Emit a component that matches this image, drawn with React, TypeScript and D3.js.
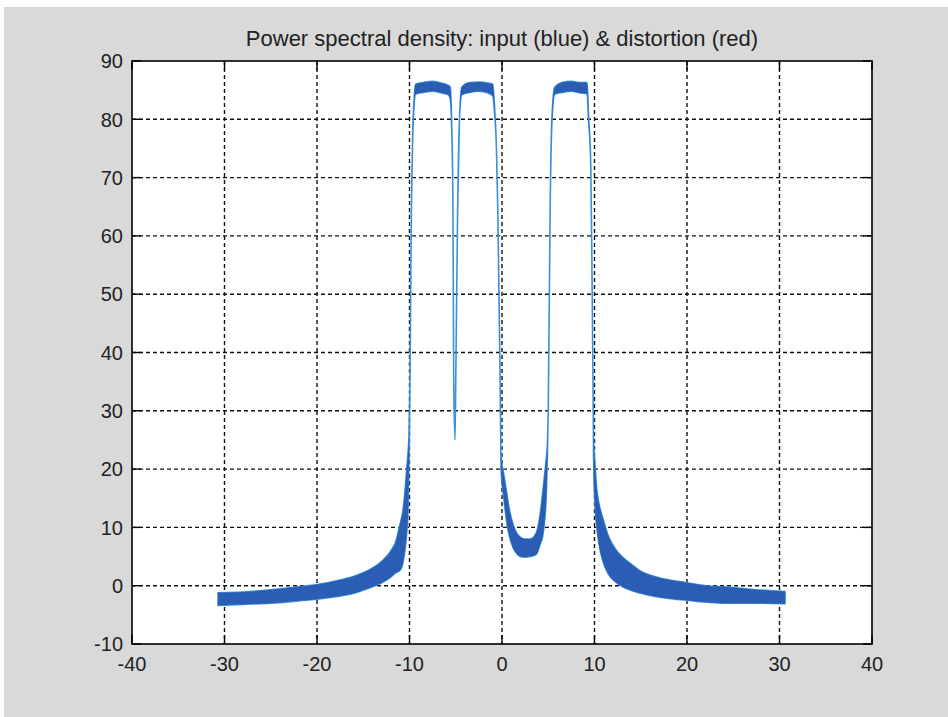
import React from 'react';
import * as d3 from 'd3';

// PSD envelope (lower / upper edge of the noisy trace)
const freq = [
  -30.7, -28, -25, -22, -20, -18, -16, -14.5, -13, -12,
  -11.5, -11, -10.7, -10.5, -10.3, -10.15, -10.05, -9.95, -9.8, -9.65,
  -9.5, -9.35, -8.5, -7.5, -6.5, -5.8, -5.6, -5.45, -5.3, -5.22,
  -5.08, -5.0, -4.8, -4.6, -4.35, -3.5, -2.5, -1.5, -1.0, -0.8,
  -0.6, -0.45, -0.2, -0.1, 0.2, 0.5, 0.8, 1.2, 1.6, 2.0,
  2.5, 3.0, 3.5, 3.8, 4.1, 4.4, 4.6, 4.8, 4.9, 5.0,
  5.2, 5.4, 5.7, 6.5, 7.5, 8.5, 9.2, 9.35, 9.6, 9.75,
  9.84, 9.9, 10.05, 10.25, 10.5, 10.95, 11.5, 12.4, 13.8, 15,
  16.7, 18, 20, 22, 24, 27.5, 30.6,
];
const psdLow = [
  -3.4, -3.2, -3.0, -2.6, -2.3, -1.9, -1.3, -0.5, 0.5, 1.5,
  2.2, 2.7, 4, 6, 9, 13, 22, 35, 64, 77,
  82.5, 84.3, 84.6, 84.8, 84.5, 84.2, 83.5, 79, 64, 35,
  25, 35, 64, 80, 84.2, 84.6, 84.8, 84.5, 84, 81,
  75, 64, 35, 20, 15, 11, 8.5, 6.5, 5.5, 5.0,
  4.9, 5.0, 5.2, 5.6, 7, 8.5, 11, 16, 22, 30,
  64, 79.5, 84.3, 84.6, 84.8, 84.5, 84.4, 80, 72, 50,
  35, 22, 14, 10, 7, 4, 2, 0.5, -0.7, -1.3,
  -1.9, -2.2, -2.5, -2.8, -3.0, -3.0, -3.1,
];
const psdHigh = [
  -1.2, -1.1, -0.7, -0.2, 0.2, 0.8, 1.6, 2.6, 4.2, 6.0,
  7.5, 10.7, 13, 16, 20, 23, 26, 35, 64, 78,
  83.5, 86, 86.3, 86.5, 86.2, 85.8, 85.5, 80, 64, 35,
  25, 35, 64, 80, 85.5, 86.3, 86.4, 86.2, 86, 82,
  75, 64, 35, 22, 19, 16, 13, 10.5, 9, 8.3,
  8.0, 8.0, 8.5, 9.5, 12, 16, 19, 22, 24, 30,
  64, 80.5, 85.5, 86.3, 86.5, 86.3, 86.3, 81, 72, 50,
  35, 25, 21, 16.5, 14, 11.3, 8.5, 6, 3.9, 2.5,
  1.5, 1.0, 0.5, 0.0, -0.2, -0.7, -1.0,
];

const xTicks = [-40, -30, -20, -10, 0, 10, 20, 30, 40];
const yTicks = [-10, 0, 10, 20, 30, 40, 50, 60, 70, 80, 90];
const title = 'Power spectral density: input (blue) & distortion (red)';

export default function App() {
  const width = 948;
  const height = 717;
  const margin = { top: 61, right: 76, bottom: 73, left: 132 };
  const x = d3.scaleLinear().domain([-40, 40]).range([margin.left, width - margin.right]);
  const y = d3.scaleLinear().domain([-10, 90]).range([height - margin.bottom, margin.top]);
  const [x0, x1] = x.range();
  const [y0, y1] = y.range();

  const pts = freq.map((f, i) => ({ f, lo: psdLow[i], hi: psdHigh[i] }));
  const band = d3
    .area<{ f: number; lo: number; hi: number }>()
    .curve(d3.curveMonotoneX)
    .x((d) => x(d.f))
    .y0((d) => y(d.lo))
    .y1((d) => y(d.hi));
  const bandPath = band(pts) || '';

  const font = "'Liberation Sans', Arial, sans-serif";
  const tickLen = 9;

  return (
    <svg width={width} height={height} style={{ position: 'absolute', left: 0, top: 0 }}>
      <rect x={0} y={0} width={width} height={height} fill="#ffffff" />
      <rect x={4} y={7} width={width - 4} height={height - 7} fill="#d9d9d9" />
      <rect x={x0} y={y1} width={x1 - x0} height={y0 - y1} fill="#ffffff" />

      {/* grid */}
      <g stroke="#111" strokeWidth={1.4} strokeDasharray="4,3">
        {xTicks.slice(1, -1).map((t) => (
          <line key={'gx' + t} x1={x(t)} x2={x(t)} y1={y1} y2={y0} />
        ))}
        {yTicks.slice(1, -1).map((t) => (
          <line key={'gy' + t} x1={x0} x2={x1} y1={y(t)} y2={y(t)} />
        ))}
      </g>

      {/* PSD trace */}
      <path d={bandPath} fill="none" stroke="#3a92dc" strokeWidth={1.6} strokeLinejoin="round" />
      <path d={bandPath} fill="#2a5db3" stroke="none" />

      {/* frame and ticks */}
      <rect x={x0} y={y1} width={x1 - x0} height={y0 - y1} fill="none" stroke="#000" strokeWidth={1.6} />
      <g stroke="#000" strokeWidth={1.4}>
        {xTicks.map((t) => (
          <g key={'tx' + t}>
            <line x1={x(t)} x2={x(t)} y1={y0} y2={y0 - tickLen} />
            <line x1={x(t)} x2={x(t)} y1={y1} y2={y1 + tickLen} />
          </g>
        ))}
        {yTicks.map((t) => (
          <g key={'ty' + t}>
            <line x1={x0} x2={x0 + tickLen} y1={y(t)} y2={y(t)} />
            <line x1={x1} x2={x1 - tickLen} y1={y(t)} y2={y(t)} />
          </g>
        ))}
      </g>

      {/* tick labels */}
      <g fontFamily={font} fontSize={20} fill="#222">
        {xTicks.map((t) => (
          <text key={'lx' + t} x={x(t)} y={y0 + 27} textAnchor="middle">
            {t}
          </text>
        ))}
        {yTicks.map((t) => (
          <text key={'ly' + t} x={x0 - 9} y={y(t)} dy="0.36em" textAnchor="end">
            {t}
          </text>
        ))}
      </g>

      <text x={(x0 + x1) / 2} y={46} textAnchor="middle" fontFamily={font} fontSize={22} fill="#222">
        {title}
      </text>
    </svg>
  );
}
